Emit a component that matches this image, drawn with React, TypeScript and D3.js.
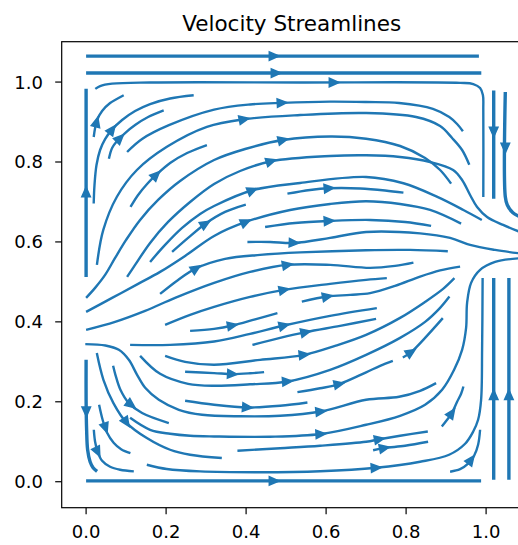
import React from 'react';
import * as d3 from 'd3';

type Pt = [number, number];

const chartTitle = 'Velocity Streamlines';
const xTicks = [0, 0.2, 0.4, 0.6, 0.8, 1.0];
const yTicks = [0, 0.2, 0.4, 0.6, 0.8, 1.0];

// streamlines, each listed in the direction of flow
const top1: Pt[] = [[0, 1.065], [0.982, 1.065]];
const top2: Pt[] = [[0, 1.0225], [0.988, 1.0225]];
const top3: Pt[] = [[0.023, 0.983], [0.035, 0.99], [0.065, 0.996], [0.16, 0.999], [0.535, 0.999], [0.935, 0.998], [0.968, 0.995], [0.985, 0.985], [0.992, 0.9675], [0.993, 0.93], [0.993, 0.7125]];
const rightDown1: Pt[] = [[1.019, 0.979], [1.019, 0.708]];
const rightDown2: Pt[] = [[1.048, 0.975], [1.048, 0.713], [1.053, 0.6925], [1.067, 0.673], [1.085, 0.6625]];
const leftUp: Pt[] = [[0, 0.5125], [0, 0.983]];
const cornerA: Pt[] = [[0.019, 0.8625], [0.0225, 0.885], [0.0275, 0.905], [0.04, 0.9275], [0.06, 0.9475], [0.094, 0.967]];
const cornerB: Pt[] = [[0.019, 0.696], [0.021, 0.7425], [0.026, 0.7925], [0.035, 0.83], [0.0475, 0.8575], [0.065, 0.881], [0.09, 0.905], [0.1225, 0.9275], [0.16, 0.945], [0.21, 0.959], [0.269, 0.967]];
const cornerC: Pt[] = [[0.057, 0.808], [0.065, 0.835], [0.0775, 0.8525], [0.0975, 0.8725], [0.1225, 0.8925], [0.155, 0.9125], [0.194, 0.929]];
const upperA: Pt[] = [[0.1025, 0.825], [0.14, 0.8575], [0.207, 0.892], [0.32, 0.931], [0.41, 0.944], [0.49, 0.948], [0.61, 0.951], [0.7, 0.95], [0.7825, 0.9475], [0.867, 0.933], [0.908, 0.9125], [0.9275, 0.895], [0.942, 0.877]];
const upperB: Pt[] = [[0.027, 0.5425], [0.043, 0.63], [0.077, 0.713], [0.127, 0.78], [0.202, 0.838], [0.302, 0.888], [0.395, 0.907], [0.535, 0.9175], [0.7, 0.9225], [0.825, 0.9125], [0.885, 0.89], [0.915, 0.86], [0.94, 0.83], [0.958, 0.793]];
const upperShort: Pt[] = [[0.111, 0.6875], [0.13, 0.7175], [0.1525, 0.745], [0.175, 0.7675], [0.21, 0.7975], [0.2525, 0.8225], [0.302, 0.8425]];
const upperC: Pt[] = [[0, 0.46], [0.0225, 0.485], [0.0475, 0.5175], [0.0725, 0.56], [0.1, 0.605], [0.135, 0.655], [0.18, 0.705], [0.235, 0.7525], [0.32, 0.805], [0.3975, 0.8325], [0.4925, 0.855], [0.61, 0.8638], [0.7, 0.8583], [0.785, 0.84], [0.8475, 0.81], [0.885, 0.78], [0.9125, 0.7458]];
const upperD: Pt[] = [[0.1025, 0.5125], [0.1225, 0.5425], [0.16, 0.5975], [0.205, 0.65], [0.26, 0.7], [0.32, 0.745], [0.385, 0.7775], [0.4625, 0.8018], [0.61, 0.815], [0.7, 0.8168], [0.785, 0.8125], [0.86, 0.8], [0.9175, 0.78], [0.94, 0.755], [0.96, 0.7175], [0.9775, 0.6875], [1.0025, 0.6625], [1.0425, 0.6425], [1.085, 0.625]];
const upperE: Pt[] = [[0.16, 0.55], [0.1975, 0.5925], [0.24, 0.635], [0.285, 0.67], [0.32, 0.69], [0.4158, 0.7293], [0.535, 0.7475], [0.7, 0.7625], [0.7933, 0.7468], [0.8768, 0.7133], [0.9433, 0.68], [0.9893, 0.655]];
const midF: Pt[] = [[0.5033, 0.7208], [0.56, 0.73], [0.6075, 0.7343], [0.685, 0.7338], [0.7475, 0.7288], [0.7933, 0.7233]];
const fanShort: Pt[] = [[0.215, 0.575], [0.255, 0.61], [0.2975, 0.645], [0.3475, 0.675], [0.3993, 0.6933]];
const midG: Pt[] = [[0, 0.425], [0.065, 0.46], [0.13, 0.495], [0.185, 0.525], [0.2475, 0.565], [0.32, 0.615], [0.3993, 0.65], [0.51, 0.68], [0.61, 0.695], [0.7, 0.7018], [0.785, 0.695], [0.86, 0.68], [0.9375, 0.6458]];
const midH: Pt[] = [[0.4475, 0.6375], [0.5225, 0.6475], [0.6075, 0.6525], [0.71, 0.655], [0.7975, 0.65], [0.8625, 0.64]];
const midI: Pt[] = [[0.4033, 0.6], [0.46, 0.6], [0.52, 0.5975], [0.61, 0.61], [0.7, 0.625], [0.835, 0.6213], [0.91, 0.61], [0.96, 0.5925], [1.0225, 0.58], [1.085, 0.5713]];
const midJ: Pt[] = [[0, 0.38], [0.0725, 0.4], [0.1475, 0.4275], [0.2225, 0.46], [0.32, 0.4975], [0.41, 0.525], [0.5033, 0.5425], [0.61, 0.5425], [0.71, 0.535], [0.7725, 0.54], [0.8183, 0.5483]];
const midK: Pt[] = [[0.185, 0.47], [0.23, 0.505], [0.275, 0.5338], [0.3475, 0.5575], [0.435, 0.5675], [0.535, 0.5738], [0.7, 0.5793], [0.81, 0.58], [0.9043, 0.5768]];
const lowM1: Pt[] = [[0.1975, 0.3925], [0.26, 0.4175], [0.32, 0.4375], [0.41, 0.4625], [0.495, 0.48], [0.61, 0.495], [0.7, 0.505], [0.7518, 0.5093]];
const lowM2: Pt[] = [[0.5393, 0.4508], [0.6033, 0.4633], [0.66, 0.4675], [0.71, 0.4718], [0.7725, 0.49], [0.835, 0.5133], [0.885, 0.5288], [0.935, 0.5383]];
const lowM3: Pt[] = [[0.26, 0.3775], [0.32, 0.3825], [0.3658, 0.3908], [0.4225, 0.4063], [0.4783, 0.4218]];
const lowM4: Pt[] = [[0.11, 0.3425], [0.21, 0.3425], [0.32, 0.3508], [0.41, 0.37], [0.495, 0.3908], [0.61, 0.415], [0.7268, 0.4343]];
const lowM5: Pt[] = [[0.4158, 0.3425], [0.485, 0.36], [0.5493, 0.3743], [0.635, 0.39], [0.725, 0.4075]];
const lowM6: Pt[] = [[0.1975, 0.315], [0.2475, 0.3], [0.32, 0.2925], [0.435, 0.305], [0.545, 0.3175], [0.6225, 0.34], [0.7, 0.3675], [0.785, 0.41], [0.8475, 0.45], [0.8925, 0.4825], [0.9208, 0.5093]];
const lowM7: Pt[] = [[0.2475, 0.275], [0.32, 0.2718], [0.3658, 0.2693], [0.41, 0.2713], [0.445, 0.2743]];
const lowG: Pt[] = [[0.135, 0.315], [0.185, 0.27], [0.255, 0.245], [0.32, 0.24], [0.41, 0.2438], [0.5033, 0.2508], [0.61, 0.28], [0.7, 0.3175], [0.785, 0.36], [0.8475, 0.4], [0.885, 0.435], [0.9083, 0.4633]];
const lowF: Pt[] = [[0.5283, 0.2243], [0.585, 0.2338], [0.6325, 0.2443], [0.7, 0.2738], [0.735, 0.29], [0.7668, 0.3025]];
const lowE: Pt[] = [[0.2475, 0.2025], [0.32, 0.1925], [0.4033, 0.1858], [0.485, 0.19], [0.5533, 0.1983]];
const separatrix: Pt[] = [[-0.002, 0.3443], [0.0483, 0.3408], [0.0818, 0.33], [0.1068, 0.305], [0.1275, 0.2675], [0.1483, 0.2343], [0.1818, 0.205], [0.2318, 0.18], [0.29, 0.1675], [0.385, 0.1638], [0.485, 0.165], [0.5868, 0.1758], [0.7, 0.205], [0.7825, 0.2125], [0.835, 0.2275], [0.875, 0.2468]];
const bendA: Pt[] = [[0.0268, 0.3218], [0.0433, 0.255], [0.0683, 0.1968], [0.1018, 0.1468], [0.1518, 0.1093], [0.21, 0.08], [0.26, 0.0675], [0.3393, 0.0593]];
const bendB: Pt[] = [[0.0675, 0.29], [0.0733, 0.2675], [0.0858, 0.23], [0.1068, 0.1968], [0.14, 0.1718], [0.2068, 0.1468]];
const bendLong: Pt[] = [[0.11, 0.16], [0.16, 0.13], [0.21, 0.12], [0.26, 0.115], [0.32, 0.1133], [0.46, 0.1125], [0.5868, 0.1193], [0.7, 0.1425], [0.785, 0.165], [0.8475, 0.1925], [0.89, 0.23], [0.92, 0.28], [0.94, 0.33], [0.95, 0.385], [0.9525, 0.4475], [0.9625, 0.4975], [0.985, 0.53], [1.0225, 0.55], [1.085, 0.5593]];
const bendInner1: Pt[] = [[0.0325, 0.1925], [0.0413, 0.155], [0.0525, 0.1225], [0.0688, 0.0975], [0.0875, 0.0813], [0.1108, 0.0713]];
const bendInner2: Pt[] = [[0.0193, 0.13], [0.0225, 0.1], [0.0288, 0.075], [0.04, 0.0525], [0.06, 0.0375], [0.085, 0.03], [0.1193, 0.0258]];
const leftDown: Pt[] = [[0, 0.305], [0, 0.205], [0.0013, 0.13], [0.0038, 0.08], [0.01, 0.05], [0.0175, 0.035], [0.0275, 0.0258]];
const bottomLong: Pt[] = [[0.1518, 0.0425], [0.2018, 0.0318], [0.285, 0.0258], [0.435, 0.0238], [0.585, 0.0263], [0.725, 0.035], [0.835, 0.05], [0.9075, 0.0675], [0.9475, 0.095], [0.9675, 0.125], [0.98, 0.155], [0.9875, 0.205], [0.99, 0.33], [0.9913, 0.51]];
const lowC: Pt[] = [[0.3783, 0.0775], [0.485, 0.0838], [0.585, 0.09], [0.7, 0.1], [0.7333, 0.1063], [0.785, 0.115], [0.8543, 0.1258]];
const lowD: Pt[] = [[0.7175, 0.0788], [0.7458, 0.0843], [0.7975, 0.09], [0.855, 0.1]];
const riseA: Pt[] = [[0.8893, 0.1383], [0.9025, 0.155], [0.9143, 0.1718], [0.9275, 0.2], [0.9375, 0.22], [0.9433, 0.2383]];
const riseB: Pt[] = [[0.91, 0.025], [0.935, 0.0313], [0.955, 0.045], [0.97, 0.065], [0.98, 0.0925], [0.985, 0.13]];
const riseC: Pt[] = [[0.7918, 0.3108], [0.8125, 0.3243], [0.8475, 0.36], [0.8918, 0.4093]];
const rightUp1: Pt[] = [[1.019, 0.005], [1.019, 0.51]];
const rightUp2: Pt[] = [[1.057, 0.005], [1.057, 0.51]];
const bottom0: Pt[] = [[0, 0.002], [0.9875, 0.002]];

const streamlines: Pt[][] = [
  top1, top2, top3, rightDown1, rightDown2, leftUp, cornerA, cornerB, cornerC,
  upperA, upperB, upperShort, upperC, upperD, upperE, midF, fanShort, midG, midH,
  midI, midJ, midK, lowM1, lowM2, lowM3, lowM4, lowM5, lowM6, lowM7, lowG, lowF,
  lowE, separatrix, bendA, bendB, bendLong, bendInner1, bendInner2, leftDown,
  bottomLong, lowC, lowD, riseA, riseB, riseC, rightUp1, rightUp2, bottom0,
];

// where each streamline carries its arrow head (same order as above)
const arrowAt: Pt[] = [
  [0.47, 1.065], [0.475, 1.0225], [0.62, 0.998], [1.019, 0.875], [1.048, 0.835], [0, 0.725],
  [0.026, 0.9], [0.065, 0.881], [0.086, 0.858],
  [0.49, 0.948], [0.395, 0.907], [0.175, 0.7675], [0.4925, 0.855], [0.4625, 0.8018], [0.4158, 0.7293],
  [0.6075, 0.7343], [0.2983, 0.6458], [0.3993, 0.65], [0.6075, 0.6525],
  [0.52, 0.5975], [0.5033, 0.5425], [0.275, 0.5338], [0.495, 0.48], [0.6033, 0.4633], [0.3658, 0.3908],
  [0.495, 0.3908], [0.5493, 0.3743], [0.545, 0.3175], [0.3658, 0.2693], [0.5033, 0.2508], [0.6325, 0.2443],
  [0.4033, 0.1858], [0.5868, 0.1758], [0.1, 0.148], [0.1125, 0.1925], [0.5868, 0.1193], [0.0483, 0.1343],
  [0.029, 0.075], [0, 0.175],
  [0.725, 0.035], [0.7333, 0.1063], [0.7458, 0.0843], [0.9143, 0.1718], [0.9625, 0.055], [0.8125, 0.3243],
  [1.019, 0.2175], [1.057, 0.2175], [0.47, 0.002],
];

const boldLines = [top1, top2, rightDown1, rightDown2, leftUp, leftDown, rightUp1, rightUp2, bottom0];

const W = 518;
const H = 545;
const plot = { left: 61.7, right: 521.7, top: 41.7, bottom: 507.7 };
const color = '#1f77b4';
const font = '"DejaVu Sans", sans-serif';

const x = d3.scaleLinear().domain([-0.061, 1.089]).range([plot.left, plot.right]);
const y = d3.scaleLinear().domain([-0.065, 1.101]).range([plot.bottom, plot.top]);

const linePath = d3
  .line<Pt>()
  .x(d => x(d[0]))
  .y(d => y(d[1]))
  .curve(d3.curveCatmullRom.alpha(0.5));

// filled triangle sitting on the line, pointing along the flow
function arrowHead(line: Pt[], at: Pt): string {
  const pts = line.map(d => [x(d[0]), y(d[1])]);
  const px = x(at[0]);
  const py = y(at[1]);
  let best = Infinity;
  let dir = [1, 0];
  let c = [px, py];
  for (let i = 0; i < pts.length - 1; i++) {
    const [x1, y1] = pts[i];
    const [x2, y2] = pts[i + 1];
    const dx = x2 - x1;
    const dy = y2 - y1;
    const l2 = dx * dx + dy * dy;
    if (!l2) continue;
    let t = ((px - x1) * dx + (py - y1) * dy) / l2;
    t = Math.max(0, Math.min(1, t));
    const qx = x1 + t * dx;
    const qy = y1 + t * dy;
    const dd = (qx - px) ** 2 + (qy - py) ** 2;
    if (dd < best) {
      best = dd;
      const l = Math.sqrt(l2);
      dir = [dx / l, dy / l];
      c = [qx, qy];
    }
  }
  const len = 9.5;
  const hw = 4.2;
  const [ux, uy] = dir;
  const tip = [c[0] + ux * len * 0.5, c[1] + uy * len * 0.5];
  const back = [c[0] - ux * len * 0.5, c[1] - uy * len * 0.5];
  const l1 = [back[0] - uy * hw, back[1] + ux * hw];
  const r1 = [back[0] + uy * hw, back[1] - ux * hw];
  return `M${tip[0]},${tip[1]}L${l1[0]},${l1[1]}L${r1[0]},${r1[1]}Z`;
}

const fmt = d3.format('.1f');

export default function App() {
  return (
    <svg
      width={W}
      height={H}
      style={{ position: 'absolute', left: 0, top: 0, background: '#fff' }}
      fontFamily={font}
    >
      <defs>
        <clipPath id="plotClip">
          <rect x={plot.left} y={plot.top} width={plot.right - plot.left} height={plot.bottom - plot.top} />
        </clipPath>
      </defs>
      <rect width={W} height={H} fill="#fff" />
      <g clipPath="url(#plotClip)">
        {streamlines.map((s, i) => (
          <path
            key={`s${i}`}
            d={linePath(s) || ''}
            fill="none"
            stroke={color}
            strokeWidth={boldLines.includes(s) ? 3.4 : 2.4}
          />
        ))}
        {streamlines.map((s, i) => (
          <path
            key={`a${i}`}
            d={arrowHead(s, arrowAt[i])}
            fill={color}
            stroke={color}
            strokeWidth={1.6}
          />
        ))}
      </g>
      <rect
        x={plot.left}
        y={plot.top}
        width={plot.right - plot.left}
        height={plot.bottom - plot.top}
        fill="none"
        stroke="#000"
        strokeWidth={1.2}
      />
      {xTicks.map(t => (
        <g key={`xt${t}`}>
          <line x1={x(t)} x2={x(t)} y1={plot.bottom} y2={plot.bottom + 6.5} stroke="#000" strokeWidth={1.2} />
          <text x={x(t)} y={538} textAnchor="middle" fontSize={18} fill="#000">
            {fmt(t)}
          </text>
        </g>
      ))}
      {yTicks.map(t => (
        <g key={`yt${t}`}>
          <line x1={plot.left - 6.5} x2={plot.left} y1={y(t)} y2={y(t)} stroke="#000" strokeWidth={1.2} />
          <text x={43} y={y(t) + 6.5} textAnchor="end" fontSize={18} fill="#000">
            {fmt(t)}
          </text>
        </g>
      ))}
      <text x={291.7} y={31} textAnchor="middle" fontSize={21.5} fill="#000">
        {chartTitle}
      </text>
    </svg>
  );
}
